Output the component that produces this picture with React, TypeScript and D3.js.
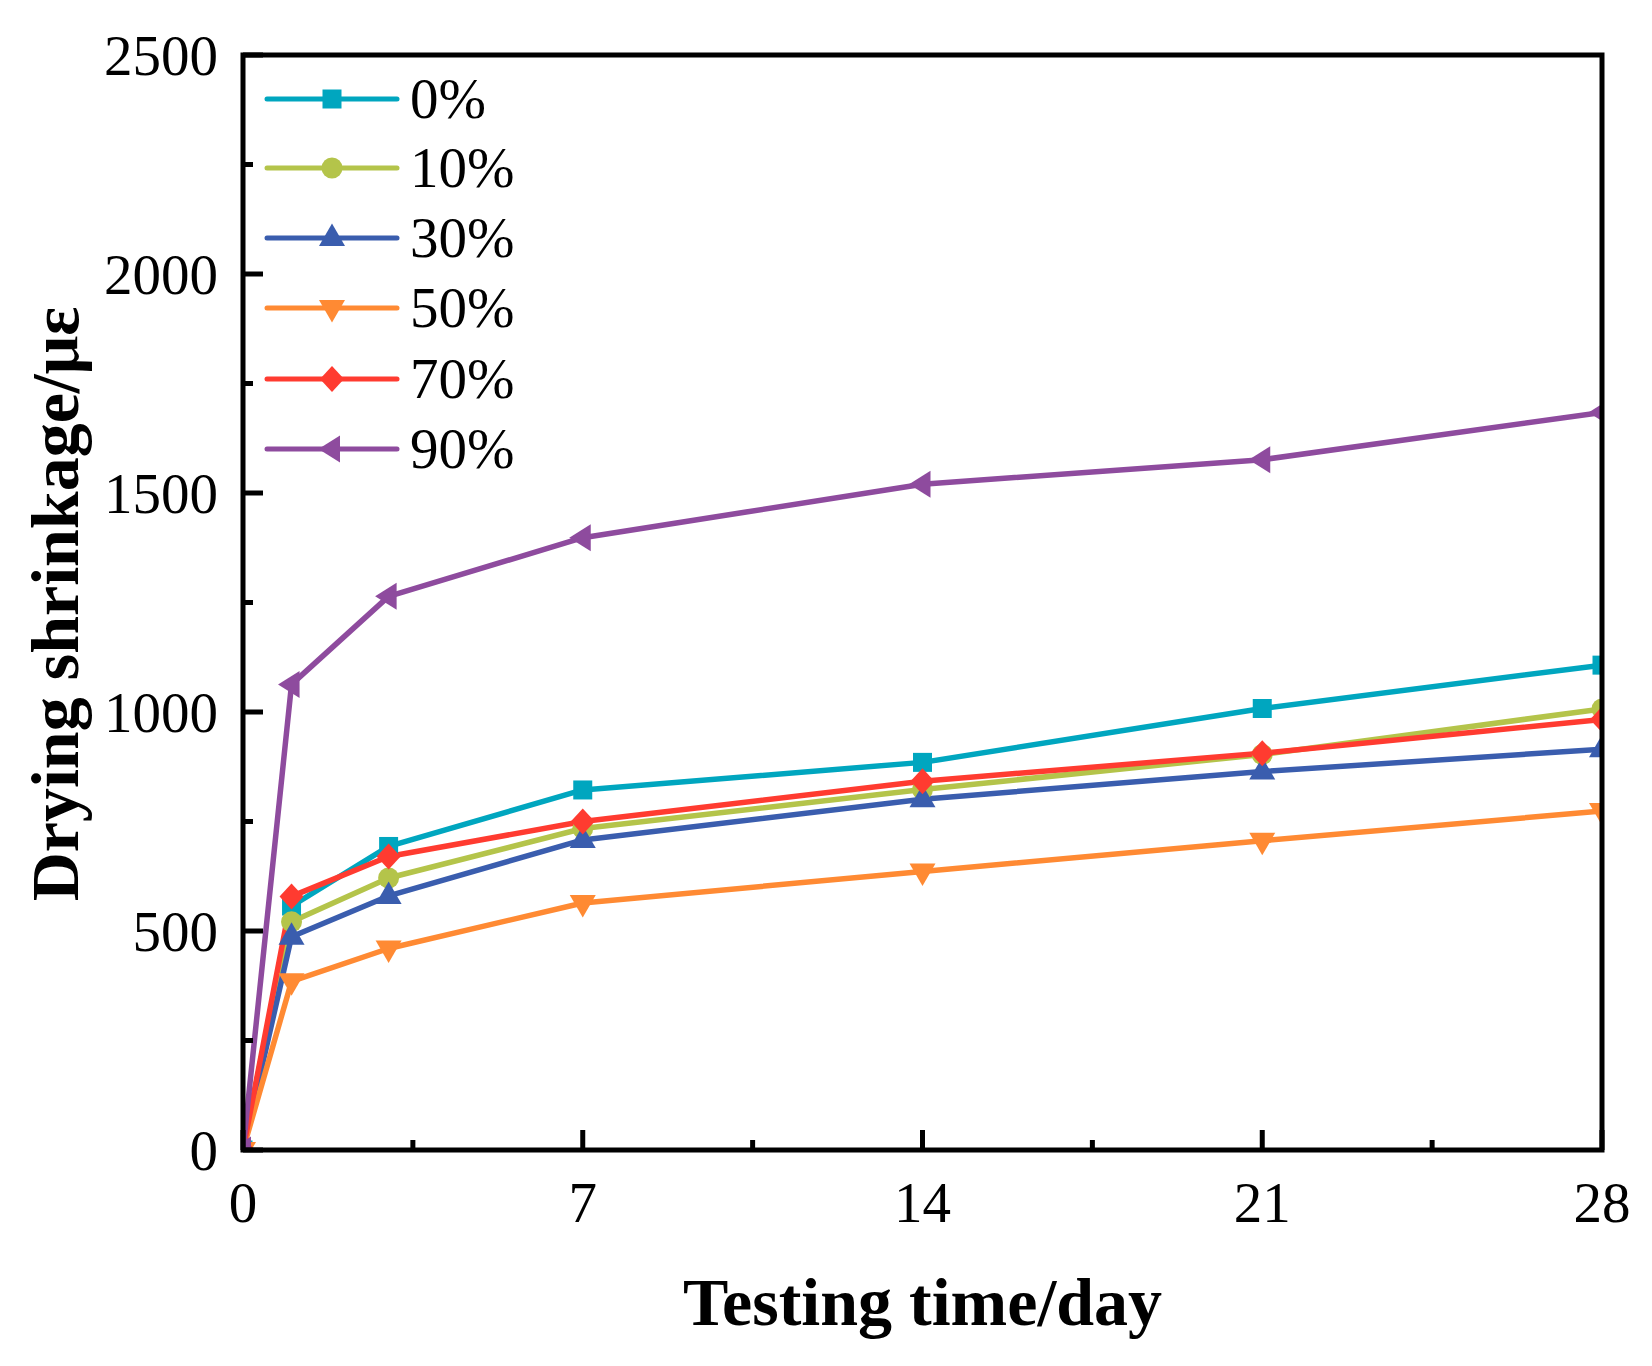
import React from "react";
import * as d3 from "d3";

const days = [0, 1, 3, 7, 14, 21, 28];
const labels = ["0%", "10%", "30%", "50%", "70%", "90%"];
const s0 = [0, 557, 693, 822, 885, 1008, 1107];
const s10 = [0, 521, 621, 734, 823, 903, 1007];
const s30 = [0, 487, 580, 708, 801, 864, 915];
const s50 = [0, 385, 460, 564, 636, 706, 774];
const s70 = [0, 579, 670, 750, 842, 906, 983];
const s90 = [0, 1063, 1264, 1398, 1520, 1576, 1684];
const colors = ["#00A6BF", "#B4C44A", "#3A5DAE", "#FF8A33", "#FF3B30", "#8E4B9E"];
const markers = ["square", "circle", "triangleUp", "triangleDown", "diamond", "triangleLeft"];
const xMajor = [0, 7, 14, 21, 28];
const xMinor = [3.5, 10.5, 17.5, 24.5];
const yMajor = [0, 500, 1000, 1500, 2000, 2500];
const yMinor = [250, 750, 1250, 1750, 2250];

const W = 1652;
const H = 1366;
const L = 243, R = 1602, T = 55, B = 1150;
const FONT = "'Liberation Serif', 'Times New Roman', serif";

function markerPath(kind: string): string {
  switch (kind) {
    case "square":
      return "M-9.5,-9.5H9.5V9.5H-9.5Z";
    case "circle":
      return d3.symbol(d3.symbolCircle, Math.PI * 10.5 * 10.5)() as string;
    case "triangleUp":
      return "M0,-14.5L13,8L-13,8Z";
    case "triangleDown":
      return "M0,14.5L13,-8L-13,-8Z";
    case "diamond":
      return "M0,-13L12,0L0,13L-12,0Z";
    case "triangleLeft":
      return "M-13.5,0L8,-13.5L8,13.5Z";
    default:
      return "";
  }
}

export default function App() {
  const x = d3.scaleLinear().domain([0, 28]).range([L, R]);
  const y = d3.scaleLinear().domain([0, 2500]).range([B, T]);
  const series = [s0, s10, s30, s50, s70, s90];
  const line = d3
    .line<number>()
    .x((_, i) => x(days[i]))
    .y((v) => y(v));

  const legendY = [99, 168, 238, 308, 379, 449];

  return (
    <div style={{ position: "absolute", left: 0, top: 0 }}>
      <svg width={W} height={H} xmlns="http://www.w3.org/2000/svg" style={{ display: "block", background: "#fff" }}>
        <defs>
          <clipPath id="plotClip">
            <rect x={L} y={T} width={R - L} height={B - T} />
          </clipPath>
        </defs>
        <rect x={0} y={0} width={W} height={H} fill="#fff" />
        <g clipPath="url(#plotClip)">
          {series.map((s, si) => (
            <path key={"l" + si} d={line(s) as string} fill="none" stroke={colors[si]} strokeWidth={5.5} strokeLinejoin="round" />
          ))}
          {series.map((s, si) => (
            <g key={"m" + si}>
              {s.map((v, i) => (
                <path key={i} d={markerPath(markers[si])} transform={`translate(${x(days[i])},${y(v)})`} fill={colors[si]} />
              ))}
            </g>
          ))}
        </g>

        {/* legend */}
        {labels.map((lab, i) => (
          <g key={"lg" + i}>
            <line x1={267} x2={397} y1={legendY[i]} y2={legendY[i]} stroke={colors[i]} strokeWidth={5} strokeLinecap="round" />
            <path d={markerPath(markers[i])} transform={`translate(332,${legendY[i]})`} fill={colors[i]} />
            <text x={410} y={legendY[i] + 19} fontFamily={FONT} fontSize={57} fill="#000">
              {lab}
            </text>
          </g>
        ))}

        {/* axes frame */}
        <rect x={L} y={T} width={R - L} height={B - T} fill="none" stroke="#000" strokeWidth={5} />

        {/* x ticks */}
        {xMajor.map((t) => (
          <g key={"xt" + t}>
            <line x1={x(t)} x2={x(t)} y1={B} y2={B - 20} stroke="#000" strokeWidth={5} />
            <text x={x(t)} y={1222} textAnchor="middle" fontFamily={FONT} fontSize={57} fill="#000">
              {t}
            </text>
          </g>
        ))}
        {xMinor.map((t) => (
          <line key={"xm" + t} x1={x(t)} x2={x(t)} y1={B} y2={B - 10} stroke="#000" strokeWidth={5} />
        ))}

        {/* y ticks */}
        {yMajor.map((t) => (
          <g key={"yt" + t}>
            <line x1={L} x2={L + 20} y1={y(t)} y2={y(t)} stroke="#000" strokeWidth={5} />
            <text x={218} y={y(t) + 20} textAnchor="end" fontFamily={FONT} fontSize={57} fill="#000">
              {t}
            </text>
          </g>
        ))}
        {yMinor.map((t) => (
          <line key={"ym" + t} x1={L} x2={L + 10} y1={y(t)} y2={y(t)} stroke="#000" strokeWidth={5} />
        ))}

        {/* axis titles */}
        <text x={(L + R) / 2} y={1325} textAnchor="middle" fontFamily={FONT} fontWeight="bold" fontSize={68} fill="#000">
          Testing time/day
        </text>
        <text
          transform={`translate(78,604) rotate(-90)`}
          textAnchor="middle"
          fontFamily={FONT}
          fontWeight="bold"
          fontSize={68}
          fill="#000"
        >
          Drying shrinkage/με
        </text>
      </svg>
    </div>
  );
}
